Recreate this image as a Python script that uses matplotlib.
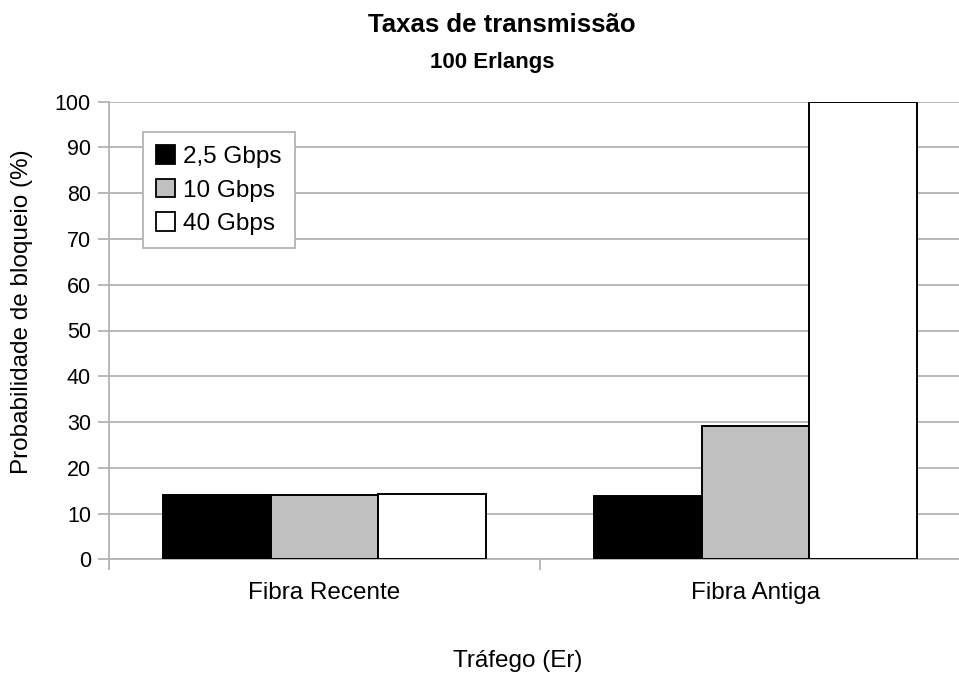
import matplotlib
matplotlib.use("Agg")
import matplotlib.pyplot as plt
import numpy as np
from matplotlib.patches import Patch

plt.rcParams['font.family'] = ['Liberation Sans', 'DejaVu Sans']

categories = ["Fibra Recente", "Fibra Antiga"]
series_names = ["2,5 Gbps", "10 Gbps", "40 Gbps"]
values_25 = [14.0, 13.9]
values_10 = [14.0, 29.2]
values_40 = [14.2, 100.0]
series_colors = ["#000000", "#c0c0c0", "#ffffff"]
yticks = [0, 10, 20, 30, 40, 50, 60, 70, 80, 90, 100]

title = "Taxas de transmissão"
subtitle = "100 Erlangs"
xlabel = "Tráfego (Er)"
ylabel = "Probabilidade de bloqueio (%)"

W, H = 959, 675
fig = plt.figure(figsize=(W / 100, H / 100), dpi=100)
# axes: left 109px, width 862px (extends past right edge), bottom y=559.3, top y=101.7
ax = fig.add_axes([109 / W, (H - 559.3) / H, 862 / W, (559.3 - 101.7) / H])

grid_c = "#b3b3b3"
x = np.arange(len(categories))
bw = 0.25
for i, (vals, col) in enumerate(zip([values_25, values_10, values_40], series_colors)):
    ax.bar(x + (i - 1) * bw, vals, width=bw, color=col, edgecolor="#000000",
           linewidth=1.4, zorder=3)

ax.set_xlim(-0.5, len(categories) - 0.5)
ax.set_ylim(0, 100)
ax.set_yticks(yticks)
ax.yaxis.grid(True, color=grid_c, linewidth=1.3, zorder=0)
ax.set_axisbelow(True)

for s in ["top", "right"]:
    ax.spines[s].set_visible(False)
for s in ["left", "bottom"]:
    ax.spines[s].set_color(grid_c)
    ax.spines[s].set_linewidth(1.3)

ax.tick_params(axis="y", direction="out", length=8, width=1.3, color=grid_c,
               labelsize=15.5, pad=5)
ax.set_xticks(np.arange(len(categories) + 1) - 0.5)
ax.set_xticklabels([])
ax.set_xticks(x, minor=True)
ax.set_xticklabels(categories, minor=True)
ax.tick_params(axis="x", which="major", direction="out", length=8, width=1.3, color=grid_c)
ax.tick_params(axis="x", which="minor", length=0, labelsize=17.5, pad=16)

fig.text(502 / W, 1 - 32 / H, title, ha="center", va="baseline",
         fontsize=18.5, fontweight="bold")
fig.text(492 / W, 1 - 68 / H, subtitle, ha="center", va="baseline",
         fontsize=16, fontweight="bold")
fig.text(518 / W, 1 - 667 / H, xlabel, ha="center", va="baseline", fontsize=17.5)
fig.text(22 / W, 1 - 311.5 / H, ylabel, ha="center", va="center", rotation=90,
         fontsize=17.5)

handles = [Patch(facecolor=c, edgecolor="#000000", linewidth=1.3) for c in series_colors]
leg = fig.legend(handles, series_names, loc="upper left",
                 bbox_to_anchor=(143 / W, 1 - 132 / H), fontsize=17.5,
                 frameon=True, fancybox=False, framealpha=1, edgecolor=grid_c,
                 handlelength=0.78, handleheight=0.78, handletextpad=0.33,
                 labelspacing=0.45, borderpad=0.55, borderaxespad=0)
leg.get_frame().set_linewidth(1.3)

fig.savefig("out.png", dpi=100, facecolor="white")
